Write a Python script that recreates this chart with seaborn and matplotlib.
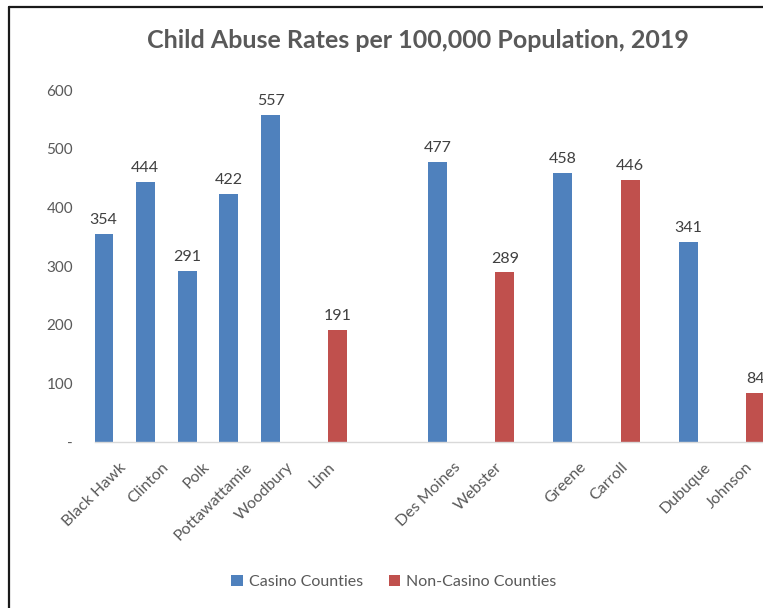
import matplotlib
matplotlib.use("Agg")
import matplotlib.pyplot as plt
import matplotlib.transforms as mtransforms
import seaborn as sns
import pandas as pd
from matplotlib.lines import Line2D
from matplotlib.patches import Patch

# ---- data ----
counties = ["Black Hawk", "Clinton", "Polk", "Pottawattamie", "Woodbury", "Linn",
            "Des Moines", "Webster", "Greene", "Carroll", "Dubuque", "Johnson"]
rates = [354, 444, 291, 422, 557, 191, 477, 289, 458, 446, 341, 84]
groups = ["Casino Counties"] * 5 + ["Non-Casino Counties"] + \
         ["Casino Counties", "Non-Casino Counties"] * 3
order = ["Black Hawk", "Clinton", "Polk", "Pottawattamie", "Woodbury", "Linn", " ", "  ",
         "Des Moines", "Webster", "   ", "Greene", "Carroll", "    ", "Dubuque", "Johnson"]
hue_order = ["Casino Counties", "Non-Casino Counties"]
colors = ["#4F81BD", "#C0504D"]
yticks = [0, 100, 200, 300, 400, 500, 600]
ytick_labels = ["-", "100", "200", "300", "400", "500", "600"]
title = "Child Abuse Rates per 100,000 Population, 2019"

df = pd.DataFrame({"County": counties, "Rate": rates, "Group": groups})

sns.set_theme(style="white")
plt.rcParams["font.family"] = ["Lato", "DejaVu Sans"]

W, H = 763, 608
fig = plt.figure(figsize=(W / 100, H / 100), dpi=100)
ax = fig.add_axes([95.4 / W, 166 / H, 668 / W, 352 / H])

sns.barplot(data=df, x="County", y="Rate", hue="Group", order=order,
            hue_order=hue_order, palette=colors, saturation=1, dodge=True,
            width=1.22, gap=0.254, ax=ax, legend=False,
            edgecolor="none", linewidth=0)

ax.set_xlim(-0.5, 15.5)
ax.set_ylim(0, 600)
ax.set_yticks(yticks)
ax.set_yticklabels(ytick_labels)
ax.set_xlabel("")
ax.set_ylabel("")

for c in ax.containers:
    ax.bar_label(c, fmt="%d", padding=5, fontsize=11.5, color="#404040")

for s in ["top", "right", "left"]:
    ax.spines[s].set_visible(False)
ax.spines["bottom"].set_color("#D9D9D9")
ax.spines["bottom"].set_linewidth(1.0)

ax.tick_params(axis="y", length=0, pad=16, labelsize=11, labelcolor="#595959")
ax.tick_params(axis="x", length=0, pad=13, labelsize=11.5, labelcolor="#595959")
shift = mtransforms.ScaledTranslation(3 / 100, 0, fig.dpi_scale_trans)
for lab in ax.get_xticklabels():
    lab.set_rotation(45)
    lab.set_ha("right")
    lab.set_va("top")
    lab.set_rotation_mode("anchor")
    lab.set_transform(lab.get_transform() + shift)

fig.text(418 / W, 1 - 40 / H, title, ha="center", va="center",
         fontsize=18, fontweight="bold", color="#595959")

handles = [Patch(facecolor=colors[0], edgecolor="none"),
           Patch(facecolor=colors[1], edgecolor="none")]
fig.legend(handles, hue_order, loc="center", bbox_to_anchor=(394 / W, 1 - 582 / H),
           ncol=2, frameon=False, fontsize=11.5, labelcolor="#595959",
           handlelength=0.7, handleheight=0.7, handletextpad=0.4, columnspacing=1.6)

# chart border (left and top visible; rest cropped)
fig.add_artist(Line2D([9 / W, 9 / W], [0, 1 - 7 / H], transform=fig.transFigure,
                      color="#1A1A1A", linewidth=1.6))
fig.add_artist(Line2D([9 / W, 1], [1 - 7 / H, 1 - 7 / H], transform=fig.transFigure,
                      color="#1A1A1A", linewidth=1.6))

fig.savefig("out.png", dpi=100)
